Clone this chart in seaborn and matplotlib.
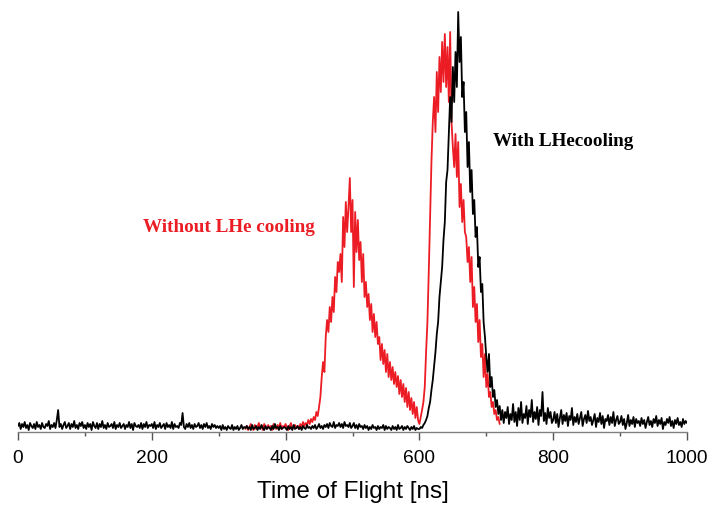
import matplotlib
matplotlib.use("Agg")
import matplotlib.pyplot as plt
import seaborn as sns
import pandas as pd
from matplotlib.ticker import MultipleLocator

# ---- data (signal height, arbitrary units), sampled every 2 ns ----
time_black = list(range(0, 1001, 2))
signal_black = [
    # 0-98
    6, 9, 3, 8, 5, 10, 4, 7, 2, 9, 6, 4, 8, 3, 10, 5, 7, 3, 9, 5,
    4, 8, 6, 11, 3, 7, 5, 9, 4, 12, 22, 5, 8, 3, 7, 10, 4, 6, 9, 3,
    8, 5, 11, 4, 7, 3, 9, 6, 10, 4,
    # 100-198
    7, 3, 9, 5, 8, 2, 10, 6, 4, 9, 3, 8, 5, 11, 4, 7, 3, 9, 5, 6,
    8, 4, 10, 3, 7, 5, 9, 4, 6, 8, 3, 7, 5, 10, 4, 8, 2, 9, 6, 5,
    7, 4, 9, 3, 8, 5, 10, 4, 7, 6,
    # 200-298
    8, 4, 10, 3, 7, 5, 9, 4, 6, 8, 3, 9, 5, 7, 4, 10, 3, 8, 5, 6,
    4, 9, 7, 19, 5, 3, 8, 5, 9, 4, 7, 3, 8, 5, 6, 9, 4, 7, 3, 8,
    5, 9, 4, 6, 3, 8, 5, 7, 4, 6,
    # 300-398
    4, 6, 2, 7, 3, 5, 2, 6, 4, 3, 7, 2, 5, 3, 6, 2, 4, 7, 3, 5,
    4, 6, 3, 5, 2, 7, 3, 4, 6, 2, 5, 3, 7, 4, 2, 6, 3, 5, 4, 2,
    6, 3, 8, 4, 5, 2, 6, 3, 4, 5,
    # 400-498
    4, 2, 6, 3, 5, 2, 7, 3, 4, 6, 3, 5, 2, 6, 4, 3, 7, 4, 5, 3,
    6, 4, 7, 3, 5, 8, 4, 6, 3, 7, 5, 8, 4, 9, 6, 5, 10, 4, 7, 6,
    9, 5, 8, 4, 10, 6, 7, 5, 9, 4,
    # 500-598
    6, 9, 4, 7, 3, 8, 5, 6, 3, 7, 4, 6, 2, 5, 3, 7, 4, 5, 2, 6,
    3, 5, 4, 7, 2, 6, 3, 5, 4, 2, 6, 3, 5, 2, 7, 3, 4, 6, 2, 5,
    3, 6, 4, 2, 5, 3, 6, 2, 4, 3,
    # 600-698
    3, 5, 4, 7, 9, 12, 16, 24, 30, 42, 52, 66, 80, 98, 110, 135, 150, 165, 192, 210,
    250, 262, 300, 335, 310, 365, 330, 380, 345, 420, 370, 395, 335, 350, 300, 320, 265, 290, 240, 262,
    218, 232, 195, 205, 165, 175, 140, 148, 110, 95,
    # 700-798
    75, 60, 78, 45, 55, 35, 42, 25, 32, 18, 26, 12, 22, 9, 20, 14, 25, 8, 18, 12,
    28, 10, 20, 6, 24, 12, 30, 9, 18, 14, 26, 8, 22, 15, 32, 10, 20, 13, 25, 7,
    22, 16, 40, 11, 19, 8, 24, 14, 20, 9,
    # 800-898
    12, 20, 9, 18, 5, 14, 22, 8, 17, 11, 19, 6, 16, 12, 24, 7, 15, 10, 18, 8,
    14, 20, 6, 13, 17, 9, 21, 11, 15, 7, 12, 18, 5, 14, 10, 19, 8, 16, 4, 13,
    11, 17, 7, 15, 9, 20, 6, 12, 16, 8,
    # 900-1000
    10, 16, 7, 13, 3, 9, 17, 6, 12, 8, 15, 5, 13, 9, 11, 6, 14, 8, 12, 4,
    10, 15, 7, 11, 5, 13, 9, 16, 6, 12, 8, 14, 3, 10, 7, 13, 9, 15, 6, 11,
    4, 12, 8, 14, 7, 10, 5, 13, 8, 11, 9,
]

time_red = list(range(340, 721, 2))
signal_red = [
    # 340-438
    3, 6, 2, 5, 8, 4, 2, 7, 3, 5, 9, 4, 6, 2, 8, 5, 3, 7, 4, 6,
    2, 8, 5, 3, 7, 4, 9, 3, 6, 5, 8, 4, 2, 6, 9, 3, 5, 7, 4, 6,
    3, 8, 5, 10, 6, 9, 7, 12, 8, 13,
    # 440-538
    10, 15, 12, 20, 16, 25, 35, 55, 70, 60, 95, 112, 100, 125, 110, 135, 120, 155, 140, 170,
    160, 178, 150, 215, 185, 230, 200, 225, 254, 200, 232, 145, 220, 180, 212, 172, 190, 150, 178, 135,
    150, 125, 138, 112, 128, 100, 118, 95, 110, 88,
    # 540-638
    95, 72, 88, 68, 82, 60, 78, 55, 70, 52, 65, 48, 60, 45, 56, 38, 52, 35, 48, 30,
    44, 25, 40, 22, 34, 18, 30, 14, 25, 12, 8, 15, 22, 30, 45, 80, 110, 160, 215, 270,
    310, 335, 300, 360, 320, 375, 340, 390, 350, 398,
    # 640-720
    345, 385, 330, 400, 310, 285, 265, 298, 255, 290, 225, 248, 210, 232, 200, 195, 170, 185, 150, 175,
    125, 145, 110, 128, 90, 112, 75, 88, 55, 78, 45, 58, 35, 40, 25, 30, 18, 22, 12, 15,
    8,
]

xticks = [0, 200, 400, 600, 800, 1000]
label_without = "Without LHe cooling"
label_with = "With LHecooling"
xlabel = "Time of Flight [ns]"

df_black = pd.DataFrame({"t": time_black, "s": signal_black})
df_red = pd.DataFrame({"t": time_red, "s": signal_red})

sns.set_style("white")
fig = plt.figure(figsize=(7.13, 5.12), dpi=100)
ax = fig.add_axes([18 / 713, 80 / 512, 669 / 713, 422 / 512])

sns.lineplot(data=df_red, x="t", y="s", color="#ec1c24", lw=1.3, ax=ax)
sns.lineplot(data=df_black, x="t", y="s", color="#000000", lw=1.3, ax=ax)

ax.set_xlim(0, 1000)
ax.set_ylim(0, 422)
for s in ["left", "right", "top"]:
    ax.spines[s].set_visible(False)
ax.spines["bottom"].set_color("#808080")
ax.spines["bottom"].set_linewidth(1.0)
ax.set_yticks([])
ax.set_ylabel("")
ax.set_xticks(xticks)
ax.set_xticklabels([str(v) for v in xticks], fontsize=13.8, family="Liberation Sans",
                   color="#000000")
ax.xaxis.set_minor_locator(MultipleLocator(100))
ax.tick_params(axis="x", which="major", direction="out", length=6, width=1,
               color="#555555", pad=7, bottom=True)
ax.tick_params(axis="x", which="minor", direction="out", length=3, width=1,
               color="#555555", bottom=True)
ax.set_xlabel(xlabel, fontsize=17.5, family="Liberation Sans", labelpad=10, color="#000000")

ax.text(314.6, 205, label_without, color="#ec1c24", fontsize=13.8, fontweight="bold",
        family="Liberation Serif", ha="center", va="center")
ax.text(814.6, 290, label_with, color="#000000", fontsize=13.8, fontweight="bold",
        family="Liberation Serif", ha="center", va="center")

fig.savefig("out.png", dpi=100)
